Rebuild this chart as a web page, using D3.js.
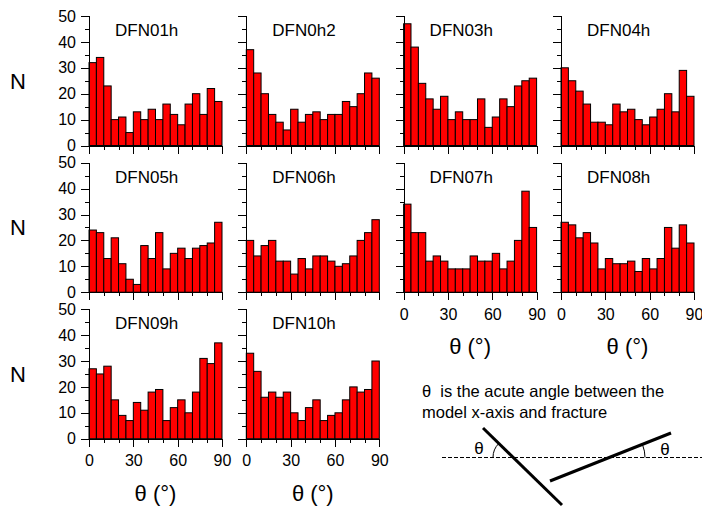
<!DOCTYPE html>
<html>
<head>
<meta charset="utf-8">
<script src="https://cdn.jsdelivr.net/npm/d3@7"></script>
<style>
  body { margin: 0; background: #fff; }
  svg text { font-family: "Liberation Sans", Arial, sans-serif; fill: #000; }
  .axis path, .axis line { stroke: #000; stroke-width: 1px; shape-rendering: crispEdges; }
  .bar { fill: #ff0000; stroke: #000; stroke-width: 1px; }
</style>
</head>
<body>
<svg id="chart" width="702" height="509"></svg>
<script>
// bin start angles (5 degree bins)
var binStarts = [0, 5, 10, 15, 20, 25, 30, 35, 40, 45, 50, 55, 60, 65, 70, 75, 80, 85];
var binWidth = 5;

var panelNames = ["DFN01h", "DFN0h2", "DFN03h", "DFN04h", "DFN05h",
                  "DFN06h", "DFN07h", "DFN08h", "DFN09h", "DFN10h"];

var dfn01h = [32, 34, 23, 10, 11, 5, 13, 10, 14, 10, 16, 12, 8, 16, 20, 12, 22, 17];
var dfn0h2 = [37, 28, 20, 12, 9, 6, 14, 9, 12, 13, 10, 12, 12, 17, 15, 20, 28, 26];
var dfn03h = [47, 38, 24, 18, 14, 19, 10, 13, 10, 10, 18, 7, 11, 18, 15, 23, 25, 26];
var dfn04h = [30, 25, 21, 16, 9, 9, 8, 16, 13, 14, 10, 8, 11, 14, 20, 13, 29, 19];
var dfn05h = [24, 23, 13, 21, 11, 5, 3, 18, 13, 23, 9, 15, 17, 13, 17, 18, 19, 27];
var dfn06h = [20, 14, 18, 20, 12, 12, 7, 13, 9, 14, 14, 12, 10, 11, 14, 20, 23, 28];
var dfn07h = [34, 23, 23, 12, 14, 12, 9, 9, 9, 14, 12, 12, 15, 9, 12, 20, 39, 25];
var dfn08h = [27, 26, 21, 23, 19, 9, 13, 11, 11, 12, 8, 13, 9, 13, 25, 17, 26, 19];
var dfn09h = [27, 25, 28, 15, 9, 7, 14, 11, 18, 19, 7, 12, 15, 10, 18, 31, 29, 37];
var dfn10h = [33, 26, 16, 18, 16, 18, 10, 7, 12, 15, 7, 9, 10, 15, 20, 18, 19, 30];

var panelCounts = [dfn01h, dfn0h2, dfn03h, dfn04h, dfn05h,
                   dfn06h, dfn07h, dfn08h, dfn09h, dfn10h];

var yMajor = [0, 10, 20, 30, 40, 50],
    yMinor = [5, 15, 25, 35, 45],
    xMajor = [0, 30, 60, 90],
    xMinor = [10, 20, 40, 50, 70, 80];

var plotW = 133, plotH = 129.5,
    colX = [89, 246.3, 403.6, 561],
    rowY = [16, 162.7, 309.2];

var svg = d3.select("#chart");

var x = d3.scaleLinear().domain([0, 90]).range([0, plotW]);
var y = d3.scaleLinear().domain([0, 50]).range([plotH, 0]);

panelCounts.forEach(function(counts, i){
    var row = Math.floor(i / 4), col = i % 4;
    var g = svg.append("g")
        .attr("transform", "translate(" + colX[col] + "," + rowY[row] + ")");

    g.selectAll("rect.bar")
        .data(counts)
        .enter()
        .append("rect")
        .attr("class", "bar")
        .attr("x", function(d, j){ return x(binStarts[j]); })
        .attr("y", function(d){ return y(d); })
        .attr("width", function(d, j){ return x(binStarts[j] + binWidth) - x(binStarts[j]); })
        .attr("height", function(d){ return plotH - y(d); });

    // y axis, labels only on first column
    g.append("g").attr("class", "axis")
        .call(d3.axisLeft(y).tickValues(yMajor).tickSize(8).tickPadding(5)
            .tickFormat(col === 0 ? d3.format("d") : function(){ return ""; }))
        .selectAll("text").style("font-size", "16px");
    g.append("g").attr("class", "axis")
        .call(d3.axisLeft(y).tickValues(yMinor).tickSize(4).tickFormat(""))
        .select("path.domain").remove();

    // x axis, labels only on bottom panels
    var showX = (row === 2) || (row === 1 && col >= 2);
    g.append("g").attr("class", "axis")
        .attr("transform", "translate(0," + plotH + ")")
        .call(d3.axisBottom(x).tickValues(xMajor).tickSize(8).tickPadding(8)
            .tickFormat(showX ? d3.format("d") : function(){ return ""; }))
        .selectAll("text").style("font-size", "16px");
    g.append("g").attr("class", "axis")
        .attr("transform", "translate(0," + plotH + ")")
        .call(d3.axisBottom(x).tickValues(xMinor).tickSize(4).tickFormat(""))
        .select("path.domain").remove();

    g.append("text")
        .attr("x", 26)
        .attr("y", 20)
        .style("font-size", "17px")
        .text(panelNames[i]);

    if(showX){
        g.append("text")
            .attr("x", plotW / 2)
            .attr("y", plotH + 62)
            .attr("text-anchor", "middle")
            .style("font-size", "22px")
            .text("θ (°)");
    }
});

// N labels
rowY.forEach(function(ry){
    svg.append("text")
        .attr("x", 18)
        .attr("y", ry + plotH / 2 + 8)
        .attr("text-anchor", "middle")
        .style("font-size", "22px")
        .text("N");
});

// annotation
var note = svg.append("g");
note.append("text").attr("x", 422).attr("y", 397).style("font-size", "16.5px")
    .style("white-space", "pre")
    .text("θ  is the acute angle between the");
note.append("text").attr("x", 422).attr("y", 418).style("font-size", "16.5px")
    .text("model x-axis and fracture");

note.append("line")
    .attr("x1", 442).attr("y1", 457.5).attr("x2", 702).attr("y2", 457.5)
    .style("stroke", "#000").style("stroke-width", 1)
    .style("stroke-dasharray", "4,2");

note.append("line")
    .attr("x1", 483).attr("y1", 428).attr("x2", 562).attr("y2", 505)
    .style("stroke", "#000").style("stroke-width", 3);
note.append("line")
    .attr("x1", 550).attr("y1", 481).attr("x2", 671).attr("y2", 433)
    .style("stroke", "#000").style("stroke-width", 3);

// angle arcs
var a1 = Math.atan2(428 - 457.5, 483 - 513);
note.append("path")
    .attr("d", "M" + (513 - 20) + ",457.5 A20,20 0 0,1 " + (513 + 20 * Math.cos(a1)) + "," + (457.5 + 20 * Math.sin(a1)))
    .style("fill", "none").style("stroke", "#000").style("stroke-width", 1);
var a2 = Math.atan2(433 - 481, 671 - 550);
note.append("path")
    .attr("d", "M" + (611 + 34) + ",457.5 A34,34 0 0,0 " + (611 + 34 * Math.cos(a2)) + "," + (457.5 + 34 * Math.sin(a2)))
    .style("fill", "none").style("stroke", "#000").style("stroke-width", 1);

note.append("text").attr("x", 479).attr("y", 454).attr("text-anchor", "middle")
    .style("font-size", "17px").text("θ");
note.append("text").attr("x", 665).attr("y", 455).attr("text-anchor", "middle")
    .style("font-size", "17px").text("θ");
</script>
</body>
</html>
